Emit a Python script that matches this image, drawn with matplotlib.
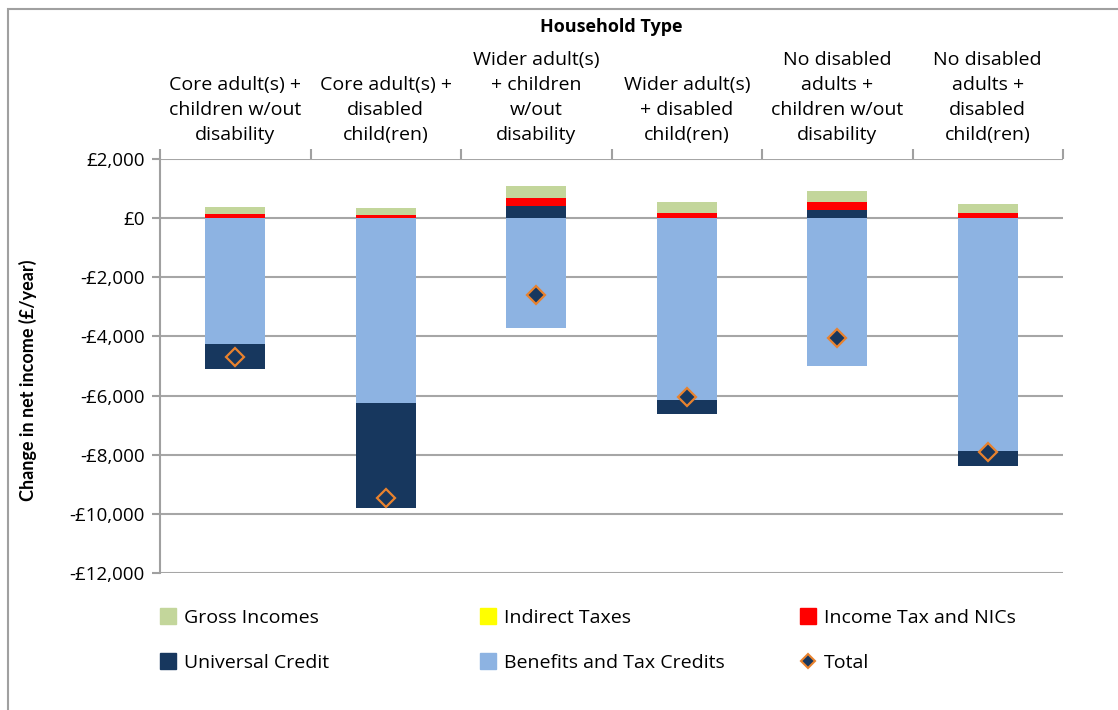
import numpy as np
import matplotlib.pyplot as plt
from matplotlib.patches import Rectangle
from matplotlib.lines import Line2D
from matplotlib.ticker import FuncFormatter

################################## DATA ##################################

households = ['Core adult(s) +\nchildren w/out\ndisability',
              'Core adult(s) +\ndisabled\nchild(ren)',
              'Wider adult(s)\n+ children\nw/out\ndisability',
              'Wider adult(s)\n+ disabled\nchild(ren)',
              'No disabled\nadults +\nchildren w/out\ndisability',
              'No disabled\nadults +\ndisabled\nchild(ren)']

benefits = [-4240, -6240, -3700, -6150, -5000, -7870]
universal_credit = [-850, -3570, 420, -480, 290, -520]
income_tax = [150, 110, 250, 160, 240, 160]
indirect_taxes = [0, 0, 0, 0, 0, 0]
gross_incomes = [230, 220, 410, 370, 390, 310]
total = [-4690, -9480, -2600, -6060, -4070, -7910]

################################## PLOT ##################################

plt.rcParams['font.family'] = ['Open Sans', 'DejaVu Sans']

fig = plt.figure(figsize=(11.18, 7.10), dpi=100)
ax = fig.add_axes([160/1118, 1 - 573/710, 903/1118, 414/710])

# outer chart frame (only top and left edges visible)
fig.add_artist(Rectangle((8/1118, -0.05), 1.2, 1 - 9/710 + 0.05, transform=fig.transFigure,
                         fill=False, edgecolor='#A0A0A0', linewidth=1.5))

series = [('Benefits and Tax Credits', benefits, '#8DB3E2'),
          ('Universal Credit', universal_credit, '#17375E'),
          ('Income Tax and NICs', income_tax, '#FF0000'),
          ('Indirect Taxes', indirect_taxes, '#FFFF00'),
          ('Gross Incomes', gross_incomes, '#C3D69B')]

x = np.arange(len(households))
pos_base = np.zeros(len(x))
neg_base = np.zeros(len(x))
for name, vals, col in series:
    vals = np.array(vals, dtype=float)
    base = np.where(vals >= 0, pos_base, neg_base)
    ax.bar(x, vals, 0.4, bottom=base, color=col, zorder=3)
    pos_base = pos_base + np.where(vals > 0, vals, 0)
    neg_base = neg_base + np.where(vals < 0, vals, 0)

ax.plot(x, total, 'D', markersize=9, markerfacecolor='#17375E',
        markeredgecolor='#E8822E', markeredgewidth=1.6, zorder=5)

ax.set_xlim(-0.5, len(x) - 0.5)
ax.set_ylim(-12000, 2000)
ax.set_yticks(np.arange(-12000, 2001, 2000))
ax.yaxis.set_major_formatter(FuncFormatter(
    lambda v, p: '£0' if v == 0 else ('-' if v < 0 else '') + '£{:,.0f}'.format(abs(v))))
ax.grid(axis='y', color='#A6A6A6', linewidth=1.5, zorder=0)

for s in ['top', 'right', 'bottom']:
    ax.spines[s].set_visible(False)
ax.spines['left'].set_color('#A0A0A0')
ax.spines['left'].set_linewidth(1.5)
ax.tick_params(axis='y', length=6, width=1.5, color='#A0A0A0', labelsize=13.5, pad=5)

# category labels on top, tick marks between categories
ax.xaxis.tick_top()
ax.set_xticks(x)
ax.set_xticklabels(households, fontsize=14, linespacing=1.5, va='bottom')
ax.set_xticks(np.arange(-0.5, len(x)), minor=True)
ax.tick_params(axis='x', which='major', length=0, pad=11)
ax.tick_params(axis='x', which='minor', length=7, width=1.5, color='#A0A0A0', top=True, bottom=False)

fig.text(611/1118, 1 - 27/710, 'Household Type', fontsize=13, fontweight='bold',
         ha='center', va='center')
fig.text(28/1118, 1 - 380/710, 'Change in net income (£/year)', fontsize=13,
         fontweight='bold', rotation=90, ha='center', va='center', family='Lato')

# legend, three columns placed by hand
def sq(col):
    return Line2D([], [], marker='s', linestyle='', markersize=11, color=col)

diamond = Line2D([], [], marker='D', linestyle='', markersize=7,
                 markerfacecolor='#17375E', markeredgecolor='#E8822E', markeredgewidth=1.5)

cols = [([sq('#C3D69B'), sq('#17375E')], ['Gross Incomes', 'Universal Credit'], 150),
        ([sq('#FFFF00'), sq('#8DB3E2')], ['Indirect Taxes', 'Benefits and Tax Credits'], 470),
        ([sq('#FF0000'), diamond], ['Income Tax and NICs', 'Total'], 790)]
for handles, labels, xl in cols:
    fig.legend(handles, labels, loc='upper left', bbox_to_anchor=(xl/1118, 1 - 599/710),
               frameon=False, fontsize=14, handlelength=0.8, handletextpad=0.45,
               labelspacing=1.4, borderpad=0)

fig.savefig('out.png', dpi=100)
